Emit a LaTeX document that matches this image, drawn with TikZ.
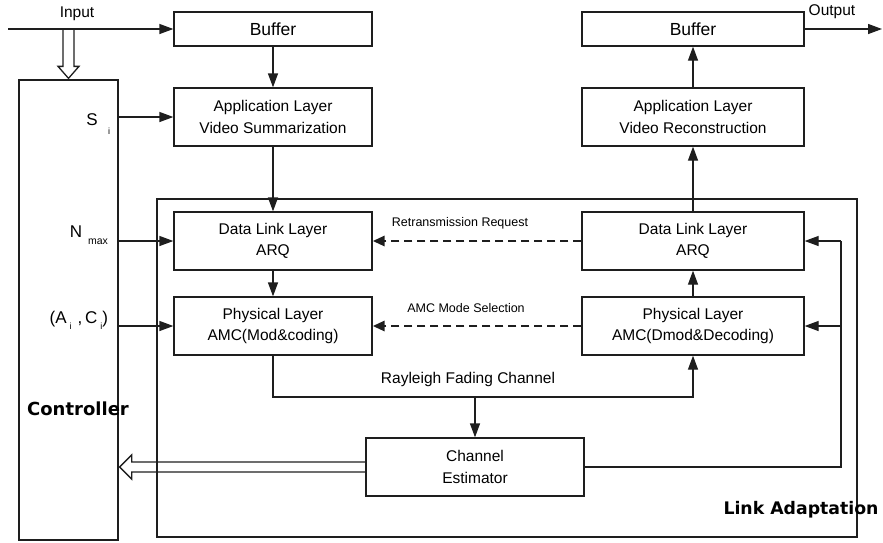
\documentclass[tikz,border=0pt]{standalone}
\usepackage{fontspec}
\setmainfont{Liberation Sans}
\newfontfamily\heavy{DejaVu Sans}
\usetikzlibrary{arrows.meta,calc}
\definecolor{ink}{HTML}{1E1E1E}
\begin{document}
\begin{tikzpicture}[x=1pt,y=-1pt,
  line width=1.3pt, draw=ink,
  box/.style={draw=ink, line width=1.3pt, align=center, inner sep=0pt,
    font=\fontsize{15.5}{21.5}\selectfont},
  lbox/.style={box, minimum width=198pt},
  rbox/.style={box, minimum width=222pt},
  arr/.style={draw=ink, line width=1.3pt, -{Triangle[length=14pt,width=10pt]}},
  dasharr/.style={draw=ink, line width=2.8pt, dash pattern=on 8pt off 5pt,
    -{Triangle[length=12pt,width=10pt]}},
  lab/.style={font=\fontsize{15.5}{18}\selectfont, inner sep=0pt},
  small/.style={font=\fontsize{12.5}{15}\selectfont, inner sep=0pt},
  bigbold/.style={font=\heavy\bfseries\fontsize{18}{20}\selectfont, inner sep=0pt}
]
\useasboundingbox (0,0) rectangle (883,542);

% big boxes
\node[draw=ink, line width=1.3pt, minimum width=99pt, minimum height=460pt, inner sep=0pt] (ctrl) at (68.5,310) {};
\node[draw=ink, line width=1.3pt, minimum width=700pt, minimum height=338pt, inner sep=0pt] (la) at (507,368) {};

% left column
\node[lbox, minimum height=34pt, font=\fontsize{17.5}{20}\selectfont] (bufL) at (273,29) {Buffer};
\node[lbox, minimum height=58pt] (appL) at (273,117) {Application Layer\\Video Summarization};
\node[lbox, minimum height=58pt] (dllL) at (273,241) {Data Link Layer\\ARQ};
\node[lbox, minimum height=58pt] (physL) at (273,326) {Physical Layer\\AMC(Mod\&coding)};

% right column
\node[rbox, minimum height=34pt, font=\fontsize{17.5}{20}\selectfont] (bufR) at (693,29) {Buffer};
\node[rbox, minimum height=58pt] (appR) at (693,117) {Application Layer\\Video Reconstruction};
\node[rbox, minimum height=58pt] (dllR) at (693,241) {Data Link Layer\\ARQ};
\node[rbox, minimum height=58pt] (physR) at (693,326) {Physical Layer\\AMC(Dmod\&Decoding)};

% channel estimator
\node[box, minimum width=218pt, minimum height=58pt] (ce) at (475,467) {Channel\\Estimator};

% coordinates
\coordinate (in) at (8,29);
\coordinate (out) at (882,29);
\coordinate (rl) at (273,397);
\coordinate (rr) at (693,397);
\coordinate (fb) at (841,467);

% labels
\node[lab] (inlab) at (77,14) {Input};
\node[lab] (outlab) at (832,12) {Output};
\node[lab, font=\fontsize{17}{20}\selectfont] (slab) at (92,120) {S};
\node[inner sep=0pt, font=\fontsize{9}{10}\selectfont] (sub) at (109,131) {i};
\node[lab, font=\fontsize{17}{20}\selectfont] (nlab) at (76,232) {N};
\node[inner sep=0pt, font=\fontsize{10.5}{12}\selectfont] (maxlab) at (98,242) {max};
\node[lab, font=\fontsize{17}{20}\selectfont, anchor=west] (aclab) at (49,320)
  {(A\raisebox{-6pt}{\fontsize{9}{10}\selectfont\,\,i}\hspace{6pt},\,C\raisebox{-6pt}{\fontsize{9}{10}\selectfont\,\,i})};
\node[small] (rtlab) at (460,223) {Retransmission Request};
\node[small] (amclab) at (466,308) {AMC Mode Selection};
\node[lab] (rfc) at (468,379) {Rayleigh Fading Channel};
\node[bigbold] (ctrllab) at (78,409) {Controller};
\node[bigbold, font=\heavy\bfseries\fontsize{17.3}{20}\selectfont] (lalab) at (801,510) {Link Adaptation};

% connectors
\draw[arr] (in) -- (bufL.west);
\draw[arr] (bufL) -- (appL);
\draw[arr] (appL) -- (dllL);
\draw[arr] (dllL) -- (physL);
\draw[arr] (ctrl.east |- appL.west) -- (appL.west);
\draw[arr] (ctrl.east |- dllL.west) -- (dllL.west);
\draw[arr] (ctrl.east |- physL.west) -- (physL.west);
\draw[dasharr] (dllR.west) -- (dllL.east);
\draw[dasharr] (physR.west) -- (physL.east);
\draw[arr] (physL.south) -- (rl) -- (rr) -- (physR.south);
\draw[arr] (ce.north |- rl) -- (ce.north);
\draw[arr] (physR) -- (dllR);
\draw[arr] (dllR) -- (appR);
\draw[arr] (appR) -- (bufR);
\draw[arr] (bufR.east) -- (out);
\draw (ce.east) -- (fb) -- (fb |- dllR.east);
\draw[arr] (fb |- dllR.east) -- (dllR.east);
\draw[arr] (fb |- physR.east) -- (physR.east);

% hollow double arrows
\draw[line width=1.3pt, line join=miter] ($(in)+(55,1)$) -- ($(ctrl.north)+(-5.5,-13)$) -- ($(ctrl.north)+(-10.5,-13)$)
  -- ($(ctrl.north)+(0,-1)$) -- ($(ctrl.north)+(10.5,-13)$) -- ($(ctrl.north)+(5.5,-13)$) -- ($(in)+(66,1)$);
\draw[line width=1.3pt, line join=miter] ($(ce.west)+(0,-5)$) -- ($(ctrl.east |- ce.west)+(13,-5)$) -- ($(ctrl.east |- ce.west)+(13,-12)$)
  -- ($(ctrl.east |- ce.west)+(1,0)$) -- ($(ctrl.east |- ce.west)+(13,12)$) -- ($(ctrl.east |- ce.west)+(13,5)$) -- ($(ce.west)+(0,5)$);
\end{tikzpicture}
\end{document}
